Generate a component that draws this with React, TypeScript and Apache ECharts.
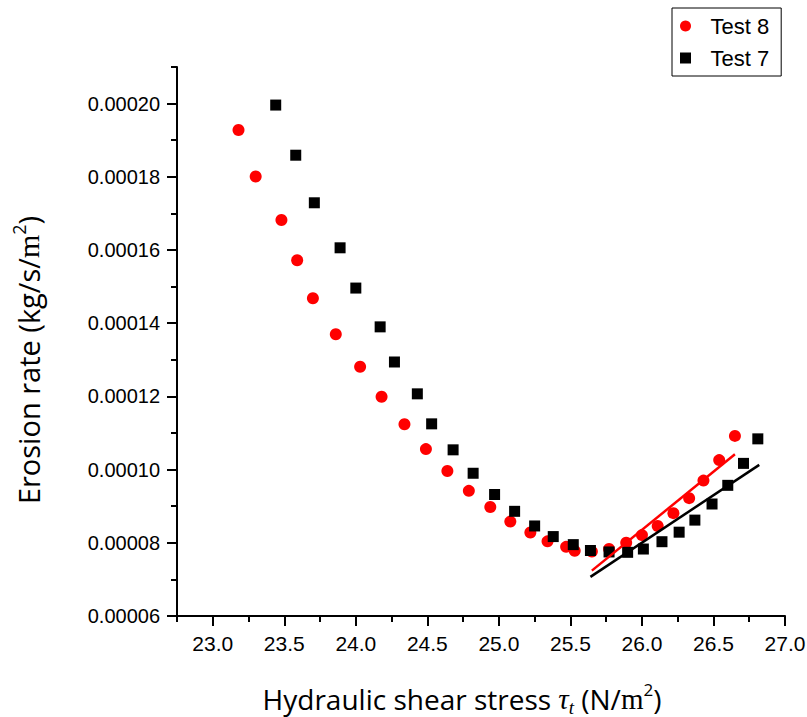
import React, { useEffect, useRef } from "react";
import * as echarts from "echarts";

// Hydraulic shear stress (N/m²) and erosion rate (kg/s/m²) for each test
const tauTest8 = [23.18, 23.3, 23.48, 23.59, 23.7, 23.86, 24.03, 24.18, 24.34, 24.49, 24.64, 24.79, 24.94, 25.08, 25.22, 25.34, 25.47, 25.53, 25.65, 25.77, 25.89, 26.0, 26.11, 26.22, 26.33, 26.43, 26.54, 26.65];
const rateTest8 = [0.0001928, 0.0001801, 0.0001682, 0.0001572, 0.0001468, 0.000137, 0.0001281, 0.0001199, 0.0001124, 0.0001056, 0.0000996, 0.0000942, 0.0000898, 0.0000858, 0.0000828, 0.0000804, 0.0000789, 0.0000778, 0.0000776, 0.0000783, 0.00008, 0.0000821, 0.0000846, 0.0000881, 0.0000922, 0.000097, 0.0001026, 0.0001092];

const tauTest7 = [23.44, 23.58, 23.71, 23.89, 24.0, 24.17, 24.27, 24.43, 24.53, 24.68, 24.82, 24.97, 25.11, 25.25, 25.38, 25.52, 25.64, 25.77, 25.9, 26.01, 26.14, 26.26, 26.37, 26.49, 26.6, 26.71, 26.81];
const rateTest7 = [0.0001996, 0.0001859, 0.0001729, 0.0001606, 0.0001496, 0.000139, 0.0001294, 0.0001207, 0.0001125, 0.0001054, 0.000099, 0.0000932, 0.0000886, 0.0000846, 0.0000817, 0.0000795, 0.0000779, 0.0000775, 0.0000774, 0.0000783, 0.0000803, 0.0000829, 0.0000862, 0.0000906, 0.0000957, 0.0001017, 0.0001084];

// Linear fits over the rising branch (end points)
const fitTauTest8 = [25.65, 26.65];
const fitRateTest8 = [0.0000724, 0.0001042];
const fitTauTest7 = [25.64, 26.82];
const fitRateTest7 = [0.0000707, 0.0001013];

// Axis ranges and tick positions
const xRange = [22.75, 27.0];
const yRange = [0.00006, 0.00021];
const xMajorTicks = [23.0, 23.5, 24.0, 24.5, 25.0, 25.5, 26.0, 26.5, 27.0];
const xMinorTicks = [22.75, 23.25, 23.75, 24.25, 24.75, 25.25, 25.75, 26.25, 26.75];
const yMajorTicks = [0.00006, 0.00008, 0.0001, 0.00012, 0.00014, 0.00016, 0.00018, 0.0002];
const yMinorTicks = [0.00007, 0.00009, 0.00011, 0.00013, 0.00015, 0.00017, 0.00019, 0.00021];

const seriesNames = ["Test 8", "Test 7"];

const zip = (xs: number[], ys: number[]) => xs.map((x, i) => [x, ys[i]]);

const SANS = "'Liberation Sans', Arial, sans-serif";
const TITLE = "'Open Sans', Lato, sans-serif";
const SERIF = "'Liberation Serif', 'Times New Roman', serif";

const makeRich = (size: number) => ({
  t: { fontFamily: TITLE, fontSize: size, color: "#000", lineHeight: size + 8 },
  tau: { fontFamily: SERIF, fontStyle: "italic", fontSize: size + 1, color: "#000", lineHeight: size + 8 },
  sub: { fontFamily: SERIF, fontStyle: "italic", fontSize: Math.round(size * 0.68), color: "#000", lineHeight: Math.round(size * 0.68), verticalAlign: "bottom" },
  m: { fontFamily: SERIF, fontSize: size + 1, color: "#000", lineHeight: size + 8 },
  sup: { fontFamily: TITLE, fontSize: Math.round(size * 0.62), color: "#000", lineHeight: Math.round(size * 0.62), verticalAlign: "top" },
});

const axisLineStyle = { color: "#000", width: 2 };

export default function App() {
  const ref = useRef<HTMLDivElement>(null);

  useEffect(() => {
    if (!ref.current) return;
    const chart = echarts.init(ref.current, undefined, { renderer: "svg" });

    const option: any = {
      animation: false,
      backgroundColor: "#fff",
      grid: { left: 177, right: 22, top: 67, bottom: 101, containLabel: false, outerBoundsMode: "none" },
      legend: {
        data: [
          { name: seriesNames[0], icon: "circle" },
          { name: seriesNames[1], icon: "path://M0 0H10V10H0Z" },
        ],
        orient: "vertical",
        left: 672,
        top: 8,
        itemWidth: 40,
        itemHeight: 11,
        itemGap: 10,
        padding: [7, 12, 7, 8],
        symbolKeepAspect: true,
        borderColor: "#000",
        borderWidth: 1,
        backgroundColor: "#fff",
        textStyle: { fontFamily: SANS, fontSize: 22, color: "#000" },
      },
      xAxis: [
        {
          type: "value",
          min: xRange[0],
          max: xRange[1],
          position: "bottom",
          axisLine: { onZero: false, lineStyle: axisLineStyle },
          axisTick: { show: true, customValues: xMajorTicks, length: 10, lineStyle: axisLineStyle },
          axisLabel: {
            customValues: xMajorTicks,
            formatter: (v: number) => v.toFixed(1),
            fontFamily: SANS,
            fontSize: 21,
            color: "#000",
            margin: 17,
          },
          splitLine: { show: false },
        },
        {
          type: "value",
          min: xRange[0],
          max: xRange[1],
          position: "bottom",
          axisLine: { show: false, onZero: false },
          axisTick: { show: true, customValues: xMinorTicks, length: 6, lineStyle: axisLineStyle },
          axisLabel: { show: false },
          splitLine: { show: false },
        },
      ],
      yAxis: [
        {
          type: "value",
          min: yRange[0],
          max: yRange[1],
          position: "left",
          axisLine: { onZero: false, lineStyle: axisLineStyle },
          axisTick: { show: true, customValues: yMajorTicks, length: 10, lineStyle: axisLineStyle },
          axisLabel: {
            customValues: yMajorTicks,
            formatter: (v: number) => v.toFixed(5),
            fontFamily: SANS,
            fontSize: 20,
            color: "#000",
            margin: 17,
          },
          splitLine: { show: false },
        },
        {
          type: "value",
          min: yRange[0],
          max: yRange[1],
          position: "left",
          axisLine: { show: false, onZero: false },
          axisTick: { show: true, customValues: yMinorTicks, length: 6, lineStyle: axisLineStyle },
          axisLabel: { show: false },
          splitLine: { show: false },
        },
      ],
      graphic: [
        {
          type: "text",
          x: 462,
          y: 699,
          style: {
            text: "{t|Hydraulic shear stress }{tau|τ}{sub|t}{t| (N/}{m|m}{sup|2}{t|)}",
            rich: makeRich(28),
            align: "center",
            verticalAlign: "middle",
          },
        },
        {
          type: "text",
          x: 28,
          y: 360,
          rotation: Math.PI / 2,
          style: {
            text: "{t|Erosion rate (kg/s/}{m|m}{sup|2}{t|)}",
            rich: makeRich(29),
            align: "center",
            verticalAlign: "middle",
          },
        },
      ],
      series: [
        {
          name: seriesNames[0],
          type: "scatter",
          symbol: "circle",
          symbolSize: 12,
          itemStyle: { color: "#ff0000", opacity: 1 },
          data: zip(tauTest8, rateTest8),
          z: 2,
        },
        {
          name: seriesNames[1],
          type: "scatter",
          symbol: "rect",
          symbolSize: 11,
          itemStyle: { color: "#000", opacity: 1 },
          data: zip(tauTest7, rateTest7),
          z: 2,
        },
        {
          name: "Test 8 fit",
          type: "line",
          symbol: "none",
          lineStyle: { color: "#ff0000", width: 2.5 },
          data: zip(fitTauTest8, fitRateTest8),
          z: 3,
        },
        {
          name: "Test 7 fit",
          type: "line",
          symbol: "none",
          lineStyle: { color: "#000", width: 2.5 },
          data: zip(fitTauTest7, fitRateTest7),
          z: 3,
        },
      ],
    };

    chart.setOption(option);
    return () => chart.dispose();
  }, []);

  return (
    <div
      ref={ref}
      style={{ position: "fixed", left: 0, top: 0, width: 807, height: 717, background: "#fff" }}
    />
  );
}
